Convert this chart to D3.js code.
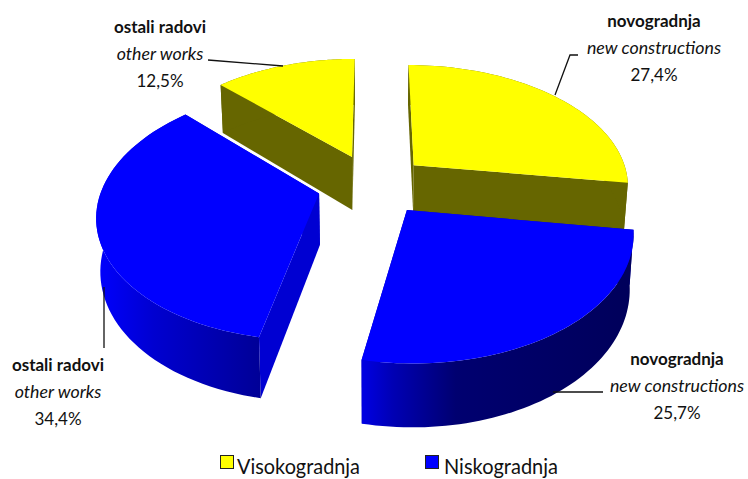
<!DOCTYPE html>
<html><head><meta charset="utf-8">
<script src="https://cdn.jsdelivr.net/npm/d3@7/dist/d3.min.js"></script>
<style>html,body{margin:0;padding:0;background:#fff}svg{display:block}text{font-family:Lato,"Open Sans",sans-serif;fill:#111}</style>
</head><body><div id="c"></div>
<script>
// data
const sliceNamesHr = ["novogradnja","novogradnja","ostali radovi","ostali radovi"];
const sliceNamesEn = ["new constructions","new constructions","other works","other works"];
const sliceGroups = ["Visokogradnja","Niskogradnja","Niskogradnja","Visokogradnja"];
const sliceValues = [27.4,25.7,34.4,12.5];
const sliceLabels = ["27,4%","25,7%","34,4%","12,5%"];
const legendNames = ["Visokogradnja","Niskogradnja"];
const legendColors = ["#ffff00","#0000ff"];

const W=748,H=479;
const svg=d3.select("#c").append("svg").attr("width",W).attr("height",H);
const defs=svg.append("defs");

// perspective view of the exploded pie
const x0=375,y0=184,A=216,B=121,P=0.155,SHRINK=0.985;
const EXPLODE=[0.245,0.245,0.265,0.25];
const DEPTH=[47,52,51,55];
const NUDGE=[[-0.5,0],[0.5,1],[-0.5,0],[-3,0]];
const sx=d3.scaleLinear().domain([-1,1]).range([x0-A,x0+A]);
const sy=d3.scaleLinear().domain([-1,1]).range([y0+B,y0-B]);
function project(X,Y,bottom,i){
  const w=1+P*Y;
  let px=sx(X/w),py=sy(Y/w);
  if(bottom){px=x0+(px-x0)*SHRINK;py+=DEPTH[i]/w;}
  return [px+NUDGE[i][0],py+NUDGE[i][1]];
}
const pie=d3.pie().sort(null).startAngle(0).endAngle(2*Math.PI)(sliceValues);
const line=d3.line();

const slices=pie.map((d,i)=>{
  const mid=(d.startAngle+d.endAngle)/2,e=EXPLODE[i];
  const ox=Math.sin(mid)*e,oy=Math.cos(mid)*e;
  const n=60;
  const angles=d3.range(n+1).map(k=>d.startAngle+(d.endAngle-d.startAngle)*k/n);
  const rim=angles.map(a=>[ox+Math.sin(a),oy+Math.cos(a)]);
  return {i,ox,oy,rim,group:sliceGroups[i]};
});

// side shading
function grad(id,x1,x2,stops){
  const g=defs.append("linearGradient").attr("id",id).attr("gradientUnits","userSpaceOnUse")
    .attr("x1",x1).attr("x2",x2).attr("y1",0).attr("y2",0);
  stops.forEach(s=>g.append("stop").attr("offset",s[0]).attr("stop-color",s[1]));
}
grad("sideB1",360,634,[[0,"#0000e6"],[0.12,"#0000b4"],[0.35,"#000070"],[1,"#00005a"]]);
grad("sideB2",96,262,[[0,"#0000ff"],[0.35,"#0000d0"],[1,"#000096"]]);
const sideFill={0:"#666600",1:"url(#sideB1)",2:"url(#sideB2)",3:"#666600"};
const radialFill={0:"#666600",1:"#0000b0",2:"#0000d2",3:"#666600"};

// far to near
const order=[3,0,2,1];
const g=svg.append("g");
order.forEach(i=>{
  const s=slices[i],top=legendColors[legendNames.indexOf(s.group)];
  const apex=[s.ox,s.oy];
  const first=s.rim[0],last=s.rim[s.rim.length-1];
  const quad=(a,b)=>line([project(a[0],a[1],false,i),project(b[0],b[1],false,i),project(b[0],b[1],true,i),project(a[0],a[1],true,i)])+"Z";
  const el=g.append("g");
  el.append("path").attr("d",quad(apex,first)).attr("fill",radialFill[i]);
  el.append("path").attr("d",quad(apex,last)).attr("fill",radialFill[i]);
  const outer=s.rim.map(p=>project(p[0],p[1],false,i)).concat(s.rim.slice().reverse().map(p=>project(p[0],p[1],true,i)));
  el.append("path").attr("d",line(outer)+"Z").attr("fill",sideFill[i]);
  const face=[apex].concat(s.rim).map(p=>project(p[0],p[1],false,i));
  el.append("path").attr("d",line(face)+"Z").attr("fill",top);
});

// leader lines
const leaders=[
  [[578,55],[570,55],[555,95]],
  [[603,392],[553,392]],
  [[104,348],[104,287]],
  [[208,60],[283,66]]
];
svg.append("g").selectAll("path").data(leaders).join("path")
  .attr("d",d=>line(d)).attr("fill","none").attr("stroke","#111").attr("stroke-width",1.3);

// labels
const labelPos=[[654,26.5],[677,364.5],[58,371],[160,32.5]];
sliceValues.forEach((v,i)=>{
  const t=svg.append("g").attr("transform",`translate(${labelPos[i]})`).attr("text-anchor","middle");
  t.append("text").attr("y",0).attr("font-weight",700).style("font-size","17px").text(sliceNamesHr[i]);
  t.append("text").attr("y",27).attr("font-style","italic").style("font-size","17.8px").text(sliceNamesEn[i]);
  t.append("text").attr("y",54).style("font-size","17px").text(sliceLabels[i]);
});

// legend
const legendX=[220,425],legendTextX=[237,444],legendTextW=[123,114];
legendNames.forEach((n,i)=>{
  svg.append("rect").attr("x",legendX[i]+0.5).attr("y",455.5).attr("width",13).attr("height",13)
    .attr("fill",legendColors[i]).attr("stroke","#222").attr("stroke-width",1);
  svg.append("text").attr("x",legendTextX[i]).attr("y",474).style("font-size","21px")
    .attr("textLength",legendTextW[i]).attr("lengthAdjust","spacingAndGlyphs").text(n);
});
</script></body></html>
